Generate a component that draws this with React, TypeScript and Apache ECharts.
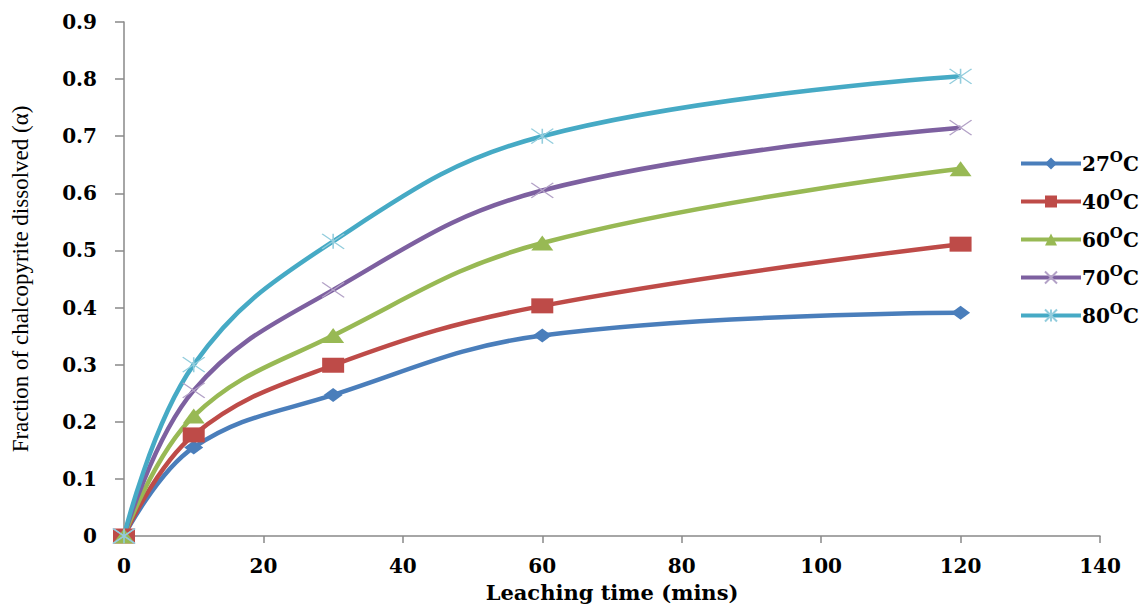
import React, { useEffect, useRef } from "react";
import * as echarts from "echarts";

const times = [0, 10, 30, 60, 120];
const temps = ["27", "40", "60", "70", "80"];
const v27 = [0, 0.155, 0.247, 0.351, 0.391];
const v40 = [0, 0.177, 0.299, 0.403, 0.511];
const v60 = [0, 0.21, 0.351, 0.513, 0.643];
const v70 = [0, 0.255, 0.431, 0.605, 0.715];
const v80 = [0, 0.3, 0.516, 0.7, 0.805];
const allValues = [v27, v40, v60, v70, v80];

const colors = ["#4A7EBB", "#BE4B48", "#98B954", "#7D60A0", "#46AAC5"];
const markerBorder = ["#4A7EBB", "#BE4B48", "#98B954", "#B3A2C7", "#93CDDD"];
const symbols = [
  "diamond",
  "rect",
  "triangle",
  "path://M0,0L20,14M20,0L0,14",
  "path://M0,0L20,14M20,0L0,14M10,0L10,14",
];
const symbolSizes = [
  [19, 14],
  [22, 15],
  [22, 15],
  [22, 15],
  [22, 15],
];

const WIDE = '"DejaVu Serif", serif';
const SERIF = '"Liberation Serif", "Times New Roman", serif';

export default function App() {
  const ref = useRef<HTMLDivElement>(null);
  useEffect(() => {
    if (!ref.current) return;
    const chart = echarts.init(ref.current, undefined, { renderer: "svg" });
    const series = temps.map((t, i) => ({
      name: t,
      type: "line",
      smooth: 0.4,
      data: times.map((x, j) => [x, allValues[i][j]]),
      symbol: symbols[i],
      symbolSize: symbolSizes[i],
      showSymbol: true,
      lineStyle: { color: colors[i], width: 4.5 },
      itemStyle: {
        color: i >= 3 ? "rgba(0,0,0,0)" : colors[i],
        borderColor: markerBorder[i],
        borderWidth: i >= 3 ? 1.3 : 0,
      },
      emphasis: { disabled: true },
    }));
    chart.setOption({
      animation: false,
      backgroundColor: "#ffffff",
      grid: { left: 124, right: 42, top: 22, bottom: 68, containLabel: false },
      legend: {
        orient: "vertical",
        left: 1014,
        top: 144,
        itemWidth: 60,
        itemHeight: 15,
        itemGap: 9,
        data: temps,
        lineStyle: { width: 4 },
        formatter: (name: string) => `{n|${name}}{s|O}{n|C}`,
        textStyle: {
          color: "#000",
          fontFamily: WIDE,
          fontWeight: "bold",
          fontSize: 20,
          padding: [0, 0, 0, -4],
          rich: {
            n: {
              fontFamily: WIDE,
              fontWeight: "bold",
              fontSize: 20,
              lineHeight: 29,
              color: "#000",
            },
            s: {
              fontFamily: WIDE,
              fontWeight: "bold",
              fontSize: 15,
              lineHeight: 15,
              color: "#000",
              padding: [0, 0, 14, 0],
            },
          },
        },
      },
      xAxis: {
        type: "value",
        min: 0,
        max: 140,
        interval: 20,
        name: "Leaching time (mins)",
        nameLocation: "middle",
        nameGap: 46,
        nameTextStyle: {
          fontFamily: WIDE,
          fontWeight: "bold",
          fontSize: 21,
          color: "#000",
        },
        axisLine: { lineStyle: { color: "#888888", width: 1.5 } },
        axisTick: { show: true, length: 7, lineStyle: { color: "#888888", width: 1.5 } },
        axisLabel: {
          margin: 20,
          fontFamily: WIDE,
          fontWeight: "bold",
          fontSize: 20,
          color: "#000",
        },
        splitLine: { show: false },
      },
      yAxis: {
        type: "value",
        min: 0,
        max: 0.9,
        interval: 0.1,
        name: "Fraction of chalcopyrite dissolved (α)",
        nameLocation: "middle",
        nameGap: 92,
        nameTextStyle: {
          fontFamily: SERIF,
          fontSize: 23,
          color: "#000",
        },
        axisLine: { show: true, lineStyle: { color: "#888888", width: 1.5 } },
        axisTick: { show: true, length: 9, lineStyle: { color: "#888888", width: 1.5 } },
        axisLabel: {
          margin: 27,
          fontFamily: WIDE,
          fontWeight: "bold",
          fontSize: 20,
          color: "#000",
          formatter: (v: number) => (v === 0 ? "0" : v.toFixed(1)),
        },
        splitLine: { show: false },
      },
      series,
    });
    return () => chart.dispose();
  }, []);
  return (
    <div
      ref={ref}
      style={{ position: "fixed", left: 0, top: 0, width: 1142, height: 608 }}
    />
  );
}
